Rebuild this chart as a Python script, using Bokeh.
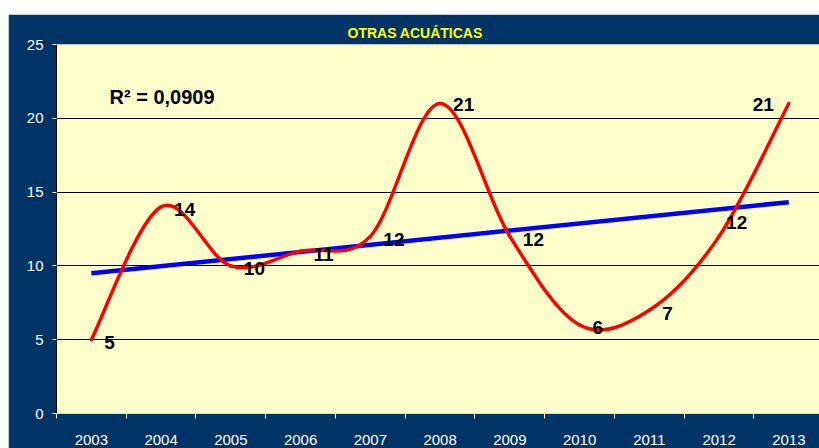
from bokeh.plotting import figure
from bokeh.models import Range1d, FixedTicker, Label, Spacer, ColumnDataSource
from bokeh.layouts import column, row
from bokeh.embed import file_html
from bokeh.resources import INLINE
from bokeh.core.properties import value

# ---- data ----
years = ["2003", "2004", "2005", "2006", "2007", "2008", "2009", "2010", "2011", "2012", "2013"]
counts = [5, 14, 10, 11, 12, 21, 12, 6, 7, 12, 21]
trend_years = ["2003", "2013"]
trend_values = [9.5, 14.32]
y_ticks = [0, 5, 10, 15, 20, 25]
grid_ticks = [5, 10, 15, 20]
r2_text = "R² = 0,0909"
title_text = "OTRAS ACUÁTICAS"

NAVY = "#003366"
FONT = "Liberation Sans"

xi = list(range(len(years)))
n = len(xi)

# Excel-style smoothed line: cubic Bezier segments through the data points
bx0, by0, bx1, by1, bcx0, bcy0, bcx1, bcy1 = [], [], [], [], [], [], [], []
for i in range(n - 1):
    ip = max(i - 1, 0)
    inx = min(i + 2, n - 1)
    bx0.append(xi[i]); by0.append(counts[i])
    bx1.append(xi[i + 1]); by1.append(counts[i + 1])
    bcx0.append(xi[i] + (xi[i + 1] - xi[ip]) / 6.0)
    bcy0.append(counts[i] + (counts[i + 1] - counts[ip]) / 6.0)
    bcx1.append(xi[i + 1] - (xi[inx] - xi[i]) / 6.0)
    bcy1.append(counts[i + 1] - (counts[inx] - counts[i]) / 6.0)

p = figure(width=811, height=434, output_backend="svg", toolbar_location=None,
           x_range=Range1d(-0.5, 10.44), y_range=Range1d(0, 25),
           min_border_left=48, min_border_right=0, min_border_top=30, min_border_bottom=35,
           background_fill_color="#FFFFCC", border_fill_color=NAVY,
           outline_line_color=None)

# title
p.title.text = title_text
p.title.text_color = "#FFFF00"
p.title.text_font = FONT
p.title.text_font_style = "bold"
p.title.text_font_size = "14px"
p.title.align = "left"
p.title.offset = 291
p.title.standoff = 8

# axes
p.xaxis.ticker = FixedTicker(ticks=xi, minor_ticks=[i - 0.5 for i in range(n + 1)])
p.xaxis.major_label_overrides = {i: years[i] for i in xi}
p.xaxis.major_tick_out = 0
p.xaxis.major_tick_in = 0
p.xaxis.minor_tick_out = 5
p.xaxis.minor_tick_in = 0
p.xaxis.minor_tick_line_color = "white"
p.xaxis.axis_line_color = "#DDDDDD"
p.xaxis.major_label_standoff = 16

p.yaxis.ticker = FixedTicker(ticks=y_ticks, minor_ticks=[])
p.yaxis.major_tick_out = 4
p.yaxis.major_tick_in = 0
p.yaxis.major_tick_line_color = "white"
p.yaxis.axis_line_color = "black"
p.yaxis.major_label_standoff = 9

for ax in (p.xaxis, p.yaxis):
    ax.major_label_text_color = "white"
    ax.major_label_text_font = FONT
    ax.major_label_text_font_size = "15px"

p.xgrid.visible = False
p.ygrid.ticker = FixedTicker(ticks=grid_ticks, minor_ticks=[])
p.ygrid.grid_line_color = "black"
p.ygrid.grid_line_width = 1

# trend line
p.line(x=[years.index(y) for y in trend_years], y=trend_values,
       line_color="#0000FF", line_width=4.5)

# smoothed series
p.bezier(x0=bx0, y0=by0, x1=bx1, y1=by1, cx0=bcx0, cy0=bcy0, cx1=bcx1, cy1=bcy1,
         line_color="#FF0000", line_width=3.5, line_cap="round")

# data labels
lab_dx = [13, 13, 13, 13, 13, 13, 13, 13, 13, 7, -15]
lab_dy = [3, 3, 3, 3, 3, 1, 3, 3, 3, -14, 1]
lab_align = ["left"] * 10 + ["right"]
src = ColumnDataSource(dict(x=xi, y=counts, t=[str(c) for c in counts],
                            dx=lab_dx, dy=lab_dy, al=lab_align))
p.text(x="x", y="y", text="t", x_offset="dx", y_offset="dy", text_align="al",
       text_baseline="middle", text_font=value(FONT), text_font_style="bold",
       text_font_size="19px", text_color="black", source=src)

p.add_layout(Label(x=0.26, y=21.45, text=r2_text, text_font=FONT, text_font_style="bold",
                   text_font_size="20px", text_color="black", text_baseline="middle"))

layout = column(Spacer(width=819, height=14),
                row(Spacer(width=8, height=434), p))
open("out.html", "w").write(file_html(layout, INLINE))
